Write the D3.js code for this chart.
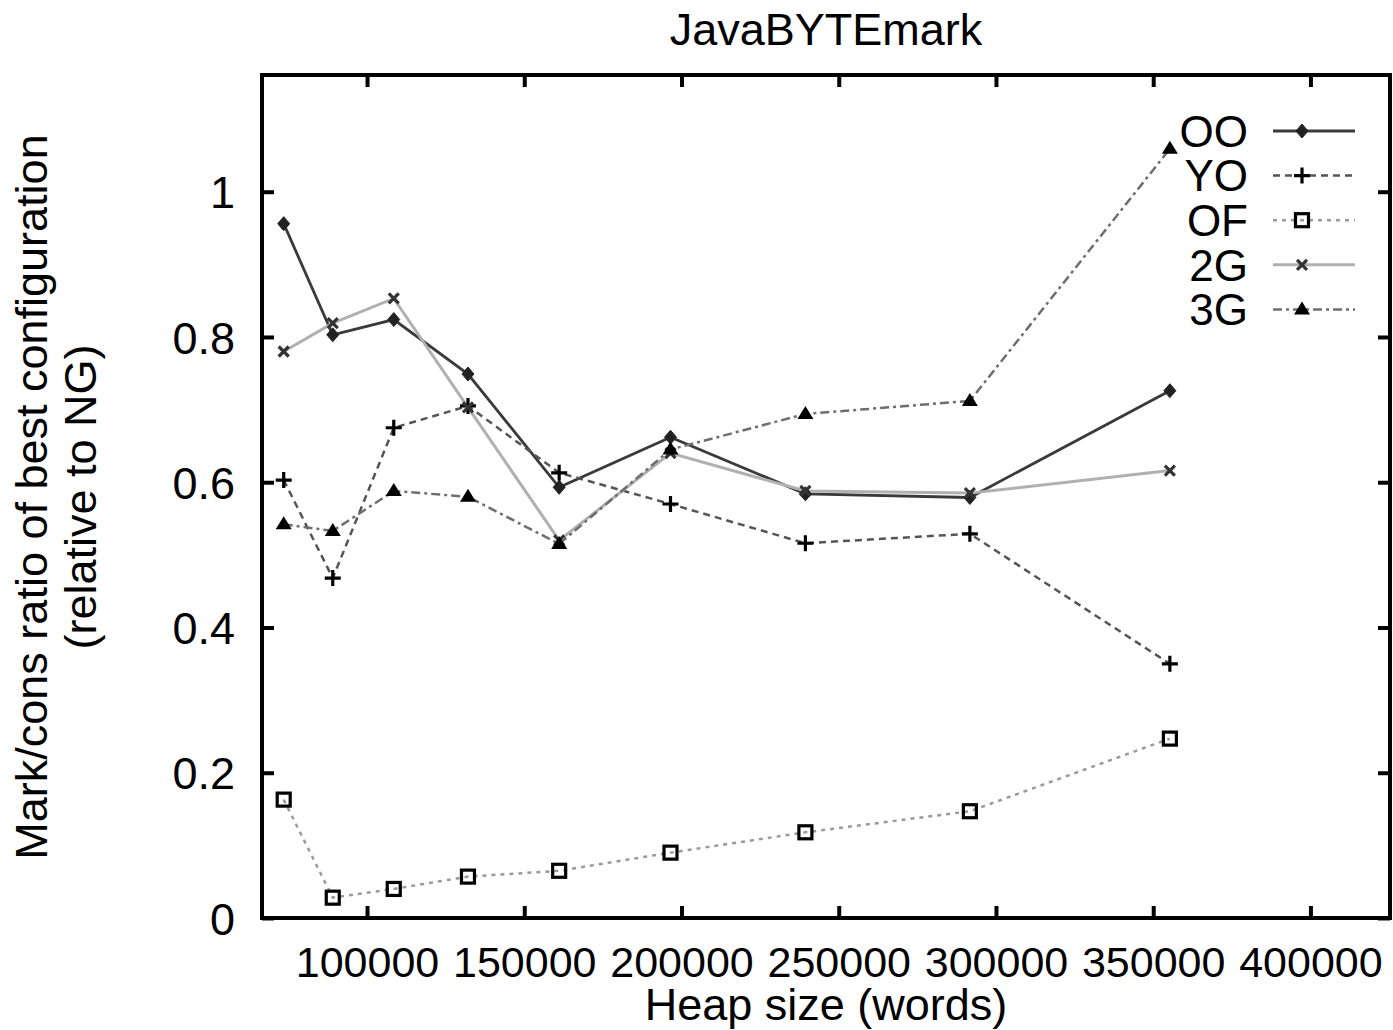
<!DOCTYPE html>
<html><head><meta charset="utf-8">
<script src="https://cdn.jsdelivr.net/npm/d3@7"></script>
<style>
html,body{margin:0;padding:0;background:#fff;}
svg text{font-family:"Liberation Sans",Arial,sans-serif;fill:#000;}
</style></head>
<body>
<svg id="chart" width="1393" height="1030"></svg>
<script>
// ---- data ----
const heapSizes = [73500, 89100, 108500, 132100, 161100, 196500, 239400, 291700, 355300];
const seriesNames = ["OO", "YO", "OF", "2G", "3G"];
const valuesOO = [0.956, 0.803, 0.824, 0.749, 0.593, 0.662, 0.584, 0.579, 0.726];
const valuesYO = [0.603, 0.468, 0.675, 0.705, 0.613, 0.570, 0.516, 0.529, 0.350];
const valuesOF = [0.163, 0.028, 0.040, 0.057, 0.065, 0.090, 0.118, 0.147, 0.247];
const values2G = [0.780, 0.819, 0.853, 0.703, 0.520, 0.640, 0.588, 0.585, 0.616];
const values3G = [0.542, 0.533, 0.588, 0.580, 0.515, 0.645, 0.694, 0.712, 1.059];
const xTickValues = [100000, 150000, 200000, 250000, 300000, 350000, 400000];
const xTickLabels = ["100000", "150000", "200000", "250000", "300000", "350000", "400000"];
const yTickValues = [0, 0.2, 0.4, 0.6, 0.8, 1];
const yTickLabels = ["0", "0.2", "0.4", "0.6", "0.8", "1"];
const titleText = "JavaBYTEmark";
const xLabel = "Heap size (words)";
const yLabel1 = "Mark/cons ratio of best configuration";
const yLabel2 = "(relative to NG)";

// ---- layout ----
const L = 262, R = 1390, T = 75, B = 918;
const svg = d3.select("#chart");
const x = d3.scaleLinear().domain([66600, 425300]).range([L, R]);
const y = d3.scaleLinear().domain([0, 1.1607]).range([B, T]);

const FS = 45;

// ticks
const tickLen = 12;
const gx = svg.append("g").attr("transform", `translate(0,${B})`)
  .call(d3.axisBottom(x).tickValues(xTickValues).tickSizeInner(-tickLen).tickSizeOuter(0)
    .tickFormat((d, i) => xTickLabels[i]));
gx.select(".domain").remove();
gx.selectAll(".tick line").attr("stroke", "#000").attr("stroke-width", 4);
gx.selectAll(".tick text").attr("y", 59).attr("dy", 0).attr("font-size", 43)
  .attr("font-family", "Liberation Sans, Arial, sans-serif").attr("fill", "#000");

const gxt = svg.append("g").attr("transform", `translate(0,${T})`)
  .call(d3.axisTop(x).tickValues(xTickValues).tickSizeInner(-tickLen).tickSizeOuter(0).tickFormat(""));
gxt.select(".domain").remove();
gxt.selectAll(".tick line").attr("stroke", "#000").attr("stroke-width", 4);

const gy = svg.append("g").attr("transform", `translate(${L},0)`)
  .call(d3.axisLeft(y).tickValues(yTickValues).tickSizeInner(-tickLen).tickSizeOuter(0)
    .tickFormat((d, i) => yTickLabels[i]));
gy.select(".domain").remove();
gy.selectAll(".tick line").attr("stroke", "#000").attr("stroke-width", 4);
gy.selectAll(".tick text").attr("x", -27).attr("dy", "0.36em").attr("font-size", FS)
  .attr("font-family", "Liberation Sans, Arial, sans-serif").attr("fill", "#000");

const gyr = svg.append("g").attr("transform", `translate(${R},0)`)
  .call(d3.axisRight(y).tickValues(yTickValues).tickSizeInner(-tickLen).tickSizeOuter(0).tickFormat(""));
gyr.select(".domain").remove();
gyr.selectAll(".tick line").attr("stroke", "#000").attr("stroke-width", 4);

// frame
svg.append("rect").attr("x", L).attr("y", T).attr("width", R - L).attr("height", B - T)
  .attr("fill", "none").attr("stroke", "#000").attr("stroke-width", 4);

// series styles
const styles = {
  OO: {vals: valuesOO, stroke: "#3a3a3a", width: 2.8, dash: null, marker: "diamond"},
  YO: {vals: valuesYO, stroke: "#555", width: 2.5, dash: "7,5", marker: "plus"},
  OF: {vals: valuesOF, stroke: "#9a9a9a", width: 2.5, dash: "4,5", marker: "square"},
  "2G": {vals: values2G, stroke: "#b0b0b0", width: 3, dash: null, marker: "cross"},
  "3G": {vals: values3G, stroke: "#6e6e6e", width: 2.5, dash: "9,4,3,4", marker: "triangle"}
};

function drawMarker(g, type, cx, cy) {
  if (type === "diamond") {
    g.append("path").attr("d", `M${cx},${cy-7}L${cx+6},${cy}L${cx},${cy+7}L${cx-6},${cy}Z`)
      .attr("fill", "#222").attr("stroke", "#222").attr("stroke-width", 1);
  } else if (type === "plus") {
    g.append("path").attr("d", `M${cx-8},${cy}H${cx+8}M${cx},${cy-8}V${cy+8}`)
      .attr("stroke", "#000").attr("stroke-width", 3.2).attr("fill", "none");
  } else if (type === "square") {
    g.append("rect").attr("x", cx-6.5).attr("y", cy-6.5).attr("width", 13).attr("height", 13)
      .attr("fill", "none").attr("stroke", "#000").attr("stroke-width", 3.2);
  } else if (type === "cross") {
    g.append("path").attr("d", `M${cx-5},${cy-5}L${cx+5},${cy+5}M${cx-5},${cy+5}L${cx+5},${cy-5}`)
      .attr("stroke", "#333").attr("stroke-width", 3.2).attr("fill", "none");
  } else if (type === "triangle") {
    g.append("path").attr("d", `M${cx},${cy-8}L${cx+8},${cy+5}L${cx-8},${cy+5}Z`)
      .attr("fill", "#000");
  }
}

const line = d3.line().x((d, i) => x(heapSizes[i])).y(d => y(d));
const plotG = svg.append("g");
seriesNames.forEach(name => {
  const s = styles[name];
  plotG.append("path").datum(s.vals).attr("d", line)
    .attr("fill", "none").attr("stroke", s.stroke).attr("stroke-width", s.width)
    .attr("stroke-dasharray", s.dash);
});
seriesNames.forEach(name => {
  const s = styles[name];
  const g = plotG.append("g");
  s.vals.forEach((v, i) => drawMarker(g, s.marker, x(heapSizes[i]), y(v)));
});

// legend
const legY0 = 131, legDY = 44.6;
seriesNames.forEach((name, k) => {
  const s = styles[name];
  const yy = legY0 + k * legDY;
  svg.append("text").attr("x", 1248).attr("y", yy).attr("dy", "0.36em")
    .attr("text-anchor", "end").attr("font-size", 44).text(name);
  svg.append("line").attr("x1", 1273).attr("x2", 1355).attr("y1", yy).attr("y2", yy)
    .attr("stroke", s.stroke).attr("stroke-width", s.width).attr("stroke-dasharray", s.dash);
  drawMarker(svg.append("g"), s.marker, 1302, yy);
});

// titles
svg.append("text").attr("x", 826).attr("y", 45).attr("text-anchor", "middle")
  .attr("font-size", FS).text(titleText);
svg.append("text").attr("x", 826).attr("y", 1020).attr("text-anchor", "middle")
  .attr("font-size", FS).text(xLabel);
svg.append("text").attr("transform", "translate(47,497) rotate(-90)").attr("text-anchor", "middle")
  .attr("font-size", FS).text(yLabel1);
svg.append("text").attr("transform", "translate(96,497) rotate(-90)").attr("text-anchor", "middle")
  .attr("font-size", FS).text(yLabel2);
</script>
</body></html>
